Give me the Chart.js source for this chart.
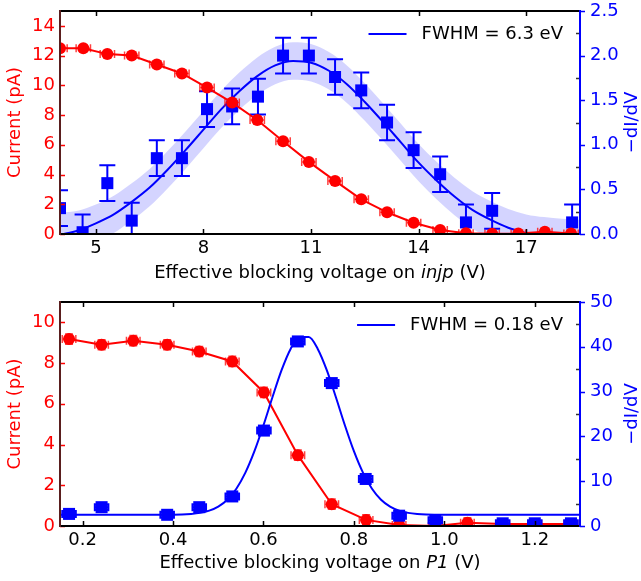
<!DOCTYPE html>
<html>
<head>
<meta charset="utf-8">
<title>Blocking voltage scans</title>
<script src="https://cdn.jsdelivr.net/npm/chart.js@4.4.1/dist/chart.umd.min.js"></script>
<style>
    body { margin: 0; background: #fff; width: 641px; height: 581px; overflow: hidden; }
    .panel { position: absolute; left: 0; width: 641px; }
</style>
</head>
<body>
<div class="panel" style="top:0"><canvas id="topChart" width="641" height="290"></canvas></div>
<div class="panel" style="top:290px"><canvas id="bottomChart" width="641" height="291"></canvas></div>

<script>
// ---------- Data: top panel (injp) ----------
var topVolt = [4.0, 4.65, 5.32, 6.0, 6.7, 7.4, 8.1, 8.8, 9.5, 10.22, 10.94, 11.67, 12.4, 13.12, 13.86, 14.6, 15.32, 16.05, 16.78, 17.52, 18.25];
var topCurrent = [12.5, 12.5, 12.1, 12.0, 11.4, 10.8, 9.85, 8.84, 7.67, 6.24, 4.85, 3.57, 2.33, 1.46, 0.76, 0.27, 0.05, 0.02, 0.03, 0.15, 0.03];

var topDerivVolt = [4.0, 4.63, 5.32, 6.0, 6.7, 7.4, 8.1, 8.8, 9.52, 10.22, 10.94, 11.67, 12.4, 13.12, 13.86, 14.6, 15.32, 16.05, 18.28];
var topDeriv = [0.29, 0.02, 0.57, 0.15, 0.85, 0.85, 1.40, 1.43, 1.54, 2.0, 2.0, 1.76, 1.61, 1.25, 0.94, 0.67, 0.13, 0.26, 0.13];

var topFitVolt = [4, 4.5, 5, 5.5, 6, 6.5, 7, 7.5, 8, 8.5, 9, 9.5, 10, 10.5, 11, 11.5, 12, 12.5, 13, 13.5, 14, 14.5, 15, 15.5, 16, 16.5, 17, 17.5, 18, 18.5];
var topFit = [-0.01, 0.04, 0.12, 0.22, 0.36, 0.52, 0.72, 0.94, 1.17, 1.40, 1.60, 1.77, 1.89, 1.94, 1.92, 1.83, 1.68, 1.48, 1.26, 1.03, 0.80, 0.60, 0.42, 0.27, 0.16, 0.07, 0.01, -0.04, -0.07, -0.08];
var topBandHigh = [0.24, 0.26, 0.33, 0.43, 0.57, 0.73, 0.93, 1.15, 1.38, 1.61, 1.81, 1.98, 2.10, 2.15, 2.13, 2.04, 1.89, 1.69, 1.47, 1.24, 1.01, 0.81, 0.63, 0.48, 0.37, 0.28, 0.22, 0.19, 0.17, 0.16];
var topBandLow = [-0.22, -0.17, -0.09, 0.01, 0.15, 0.31, 0.51, 0.73, 0.96, 1.19, 1.39, 1.56, 1.68, 1.73, 1.71, 1.62, 1.47, 1.27, 1.05, 0.82, 0.59, 0.39, 0.21, 0.06, -0.05, -0.14, -0.20, -0.25, -0.28, -0.29];

var topCurrentErrX = 0.2;
var topCurrentErrY = 0.15;
var topDerivErrY = 0.2;

var topXTicks = [5, 8, 11, 14, 17];
var topLeftTicks = [0, 2, 4, 6, 8, 10, 12, 14];
var topRightTicks = [0, 0.5, 1.0, 1.5, 2.0, 2.5];
var topLegend = 'FWHM = 6.3 eV';
var topElectrode = 'injp';

// ---------- Data: bottom panel (P1) ----------
var botVolt = [0.17, 0.242, 0.312, 0.387, 0.458, 0.531, 0.601, 0.676, 0.751, 0.827, 0.90, 0.98, 1.051, 1.129, 1.20, 1.28];
var botCurrent = [9.18, 8.9, 9.1, 8.9, 8.57, 8.08, 6.56, 3.48, 1.07, 0.3, 0.05, 0.0, 0.16, 0.1, 0.1, 0.1];

var botDerivVolt = [0.17, 0.242, 0.387, 0.458, 0.531, 0.601, 0.676, 0.751, 0.826, 0.90, 0.98, 1.129, 1.20, 1.28];
var botDeriv = [2.7, 4.2, 2.5, 4.2, 6.6, 21.3, 41.2, 31.9, 10.5, 2.3, 1.3, 0.6, 0.6, 0.6];

var botFitVolt = [0.15, 0.40, 0.44, 0.46, 0.48, 0.50, 0.52, 0.54, 0.56, 0.58, 0.60, 0.62, 0.64, 0.66, 0.68, 0.70, 0.72, 0.74, 0.76, 0.78, 0.80, 0.82, 0.84, 0.86, 0.88, 0.90, 0.92, 0.94, 0.96, 1.00, 1.30];
var botFit = [2.5, 2.52, 2.69, 2.93, 3.42, 4.32, 5.86, 8.32, 11.9, 16.69, 22.48, 28.79, 34.79, 39.53, 42.16, 42.16, 39.53, 34.79, 28.79, 22.48, 16.69, 11.9, 8.32, 5.86, 4.32, 3.42, 2.93, 2.69, 2.58, 2.52, 2.5];

var botCurrentErrX = 0.015;
var botCurrentErrY = 0.25;
var botDerivErrX = 0.015;
var botDerivErrY = 0.6;

var botXTicks = [0.2, 0.4, 0.6, 0.8, 1.0, 1.2];
var botLeftTicks = [0, 2, 4, 6, 8, 10];
var botRightTicks = [0, 10, 20, 30, 40, 50];
var botLegend = 'FWHM = 0.18 eV';
var botElectrode = 'P1';

// ---------- Colours and fonts ----------
var RED = '#ff0000';
var BLUE = '#0000ff';
var BAND = 'rgba(0, 0, 255, 0.17)';
var FONT = "'DejaVu Sans', sans-serif";
var FONT_SIZE = 18;

Chart.defaults.font.family = FONT;
Chart.defaults.font.size = FONT_SIZE;

function pairs(xs, ys) {
    return xs.map(function(x, i) { return { x: x, y: ys[i] }; });
}

// ---------- Error bar plugin ----------
// Draws the bars just before the dataset's own markers so layering stays right.
var errorBars = {
    id: 'errorBars',
    beforeDatasetDraw: function(chart, args) {
        var ds = chart.data.datasets[args.index];
        if (!ds.errX && !ds.errY) return;
        var xs = chart.scales.x;
        var ys = chart.scales[ds.yAxisID];
        var area = chart.chartArea;
        var ctx = chart.ctx;
        var cap = ds.errCap;

        ctx.save();
        ctx.beginPath();
        ctx.rect(area.left, area.top, area.right - area.left, area.bottom - area.top);
        ctx.clip();
        ctx.strokeStyle = ds.errColor;
        ctx.lineWidth = ds.errWidth;
        ctx.beginPath();
        ds.data.forEach(function(p) {
            var px = xs.getPixelForValue(p.x);
            var py = ys.getPixelForValue(p.y);
            if (ds.errY) {
                var y1 = ys.getPixelForValue(p.y + ds.errY);
                var y2 = ys.getPixelForValue(p.y - ds.errY);
                ctx.moveTo(px, y1); ctx.lineTo(px, y2);
                ctx.moveTo(px - cap, y1); ctx.lineTo(px + cap, y1);
                ctx.moveTo(px - cap, y2); ctx.lineTo(px + cap, y2);
            }
            if (ds.errX) {
                var x1 = xs.getPixelForValue(p.x - ds.errX);
                var x2 = xs.getPixelForValue(p.x + ds.errX);
                ctx.moveTo(x1, py); ctx.lineTo(x2, py);
                ctx.moveTo(x1, py - 4); ctx.lineTo(x1, py + 4);
                ctx.moveTo(x2, py - 4); ctx.lineTo(x2, py + 4);
            }
        });
        ctx.stroke();
        ctx.restore();
    }
};

// ---------- Frame plugin: spines, inward ticks, titles, legend ----------
var frame = {
    id: 'frame',
    afterDraw: function(chart, args, opts) {
        var ctx = chart.ctx;
        var a = chart.chartArea;
        var xs = chart.scales.x, yl = chart.scales.yL, yr = chart.scales.yR;
        var midY = (a.top + a.bottom) / 2;
        var font = FONT_SIZE + 'px ' + FONT;

        ctx.save();
        ctx.lineWidth = 1.5;

        // x ticks, inward at bottom and top
        ctx.strokeStyle = '#000';
        ctx.beginPath();
        opts.xTicks.forEach(function(v) {
            var px = Math.round(xs.getPixelForValue(v)) + 0.5;
            ctx.moveTo(px, a.bottom); ctx.lineTo(px, a.bottom - 5);
            ctx.moveTo(px, a.top); ctx.lineTo(px, a.top + 5);
        });
        ctx.stroke();

        // left ticks (red, inward)
        ctx.strokeStyle = RED;
        ctx.beginPath();
        opts.leftTicks.forEach(function(v) {
            var py = Math.round(yl.getPixelForValue(v)) + 0.5;
            ctx.moveTo(a.left, py); ctx.lineTo(a.left + 5, py);
        });
        ctx.stroke();

        // right minor ticks (dark, inward)
        ctx.strokeStyle = '#333';
        ctx.beginPath();
        opts.rightTicks.forEach(function(v, i) {
            if (i === 0) return;
            var mid = (v + opts.rightTicks[i - 1]) / 2;
            var py = Math.round(yr.getPixelForValue(mid)) + 0.5;
            ctx.moveTo(a.right, py); ctx.lineTo(a.right - 4, py);
        });
        ctx.stroke();

        // right ticks (blue, outward)
        ctx.strokeStyle = BLUE;
        ctx.beginPath();
        opts.rightTicks.forEach(function(v) {
            var py = Math.round(yr.getPixelForValue(v)) + 0.5;
            ctx.moveTo(a.right, py); ctx.lineTo(a.right + 5, py);
        });
        ctx.stroke();

        // spines
        ctx.lineWidth = 2;
        ctx.strokeStyle = '#000';
        ctx.beginPath();
        ctx.moveTo(a.left, a.top); ctx.lineTo(a.right, a.top);
        ctx.moveTo(a.left, a.bottom); ctx.lineTo(a.right, a.bottom);
        ctx.stroke();
        ctx.strokeStyle = '#5a1e1e';
        ctx.beginPath();
        ctx.moveTo(a.left, a.top - 1); ctx.lineTo(a.left, a.bottom + 1);
        ctx.stroke();
        ctx.strokeStyle = BLUE;
        ctx.beginPath();
        ctx.moveTo(a.right, a.top - 1); ctx.lineTo(a.right, a.bottom + 1);
        ctx.stroke();

        // y titles
        ctx.font = font;
        ctx.textAlign = 'center';
        ctx.textBaseline = 'middle';
        ctx.fillStyle = RED;
        ctx.save();
        ctx.translate(15, midY);
        ctx.rotate(-Math.PI / 2);
        ctx.fillText('Current (pA)', 0, 0);
        ctx.restore();
        ctx.fillStyle = BLUE;
        ctx.save();
        ctx.translate(632, midY);
        ctx.rotate(-Math.PI / 2);
        ctx.fillText('\u2212dI/dV', 0, 0);
        ctx.restore();

        // x title with italic electrode name
        var parts = [
            { text: 'Effective blocking voltage on ', font: font },
            { text: opts.electrode, font: 'italic ' + font },
            { text: ' (V)', font: font }
        ];
        var total = 0;
        parts.forEach(function(p) { ctx.font = p.font; p.w = ctx.measureText(p.text).width; total += p.w; });
        var tx = (a.left + a.right) / 2 - total / 2;
        ctx.fillStyle = '#000';
        ctx.textAlign = 'left';
        parts.forEach(function(p) {
            ctx.font = p.font;
            ctx.fillText(p.text, tx, opts.xTitleY);
            tx += p.w;
        });

        // legend inside the plot, top right
        ctx.font = font;
        var lw = ctx.measureText(opts.legend).width;
        var lx = a.right - 17 - lw;
        var ly = a.top + 23;
        ctx.fillText(opts.legend, lx, ly);
        ctx.strokeStyle = BLUE;
        ctx.lineWidth = 2;
        ctx.beginPath();
        ctx.moveTo(lx - 53, ly); ctx.lineTo(lx - 15, ly);
        ctx.stroke();

        ctx.restore();
    }
};

// ---------- Scale helpers ----------
function fixedWidth(w) {
    return function(scale) { scale.width = w; scale.paddingTop = 0; scale.paddingBottom = 0; };
}
function fixedHeight(h) {
    return function(scale) { scale.height = h; scale.paddingLeft = 0; scale.paddingRight = 0; };
}
function useTicks(values) {
    return function(scale) { scale.ticks = values.map(function(v) { return { value: v }; }); };
}
function fmt(dec) {
    return function(value) { return value.toFixed(dec); };
}

function buildChart(canvasId, cfg) {
    var quiet = { display: false, drawTicks: false };
    return new Chart(document.getElementById(canvasId), {
        type: 'line',
        data: { datasets: cfg.datasets },
        options: {
            responsive: false,
            animation: false,
            layout: { padding: { top: cfg.padTop, left: 0, right: 0, bottom: 0 } },
            plugins: {
                legend: { display: false },
                tooltip: { enabled: false },
                frame: cfg.frame
            },
            scales: {
                x: {
                    type: 'linear', min: cfg.xMin, max: cfg.xMax,
                    afterBuildTicks: useTicks(cfg.frame.xTicks),
                    afterFit: fixedHeight(cfg.xHeight),
                    grid: quiet, border: { display: false },
                    ticks: { color: '#000', padding: 4, maxRotation: 0, autoSkip: false, callback: fmt(cfg.xDec) }
                },
                yL: {
                    type: 'linear', position: 'left', min: 0, max: cfg.leftMax,
                    afterBuildTicks: useTicks(cfg.frame.leftTicks),
                    afterFit: fixedWidth(60),
                    grid: quiet, border: { display: false },
                    ticks: { color: RED, padding: 5, autoSkip: false, callback: fmt(0) }
                },
                yR: {
                    type: 'linear', position: 'right', min: 0, max: cfg.rightMax,
                    afterBuildTicks: useTicks(cfg.frame.rightTicks),
                    afterFit: fixedWidth(61),
                    grid: quiet, border: { display: false },
                    ticks: { color: BLUE, padding: 10, autoSkip: false, callback: fmt(cfg.rightDec) }
                }
            }
        },
        plugins: [errorBars, frame]
    });
}

function currentSet(xs, ys, errX, errY, order) {
    return {
        data: pairs(xs, ys), yAxisID: 'yL', order: order, clip: 0,
        borderColor: RED, borderWidth: 2, backgroundColor: RED,
        pointStyle: 'circle', pointRadius: 6, pointBorderWidth: 0, pointBackgroundColor: RED,
        errX: errX, errY: errY, errColor: 'rgba(255,0,0,0.75)', errWidth: 1.5, errCap: 4
    };
}
function derivSet(xs, ys, errX, errY, cap, order) {
    return {
        data: pairs(xs, ys), yAxisID: 'yR', order: order, clip: 0, showLine: false,
        pointStyle: 'rect', pointRadius: 8.5, pointBorderWidth: 0, pointBackgroundColor: BLUE,
        borderColor: BLUE, backgroundColor: BLUE,
        errX: errX, errY: errY, errColor: BLUE, errWidth: 2, errCap: cap
    };
}
function fitSet(xs, ys, order) {
    return {
        data: pairs(xs, ys), yAxisID: 'yR', order: order, clip: 0,
        borderColor: BLUE, borderWidth: 2, pointRadius: 0, cubicInterpolationMode: 'monotone'
    };
}

// ---------- Top chart ----------
buildChart('topChart', {
    padTop: 11, xHeight: 56, xMin: 4.0, xMax: 18.5, xDec: 0,
    leftMax: 15, rightMax: 2.5, rightDec: 1,
    frame: {
        xTicks: topXTicks, leftTicks: topLeftTicks, rightTicks: topRightTicks,
        legend: topLegend, electrode: topElectrode, xTitleY: 273
    },
    datasets: [
        currentSet(topVolt, topCurrent, topCurrentErrX, topCurrentErrY, 1),
        derivSet(topDerivVolt, topDeriv, 0, topDerivErrY, 8, 2),
        fitSet(topFitVolt, topFit, 3),
        {
            data: pairs(topFitVolt, topBandHigh), yAxisID: 'yR', order: 4, clip: 0,
            borderColor: 'rgba(0,0,0,0)', borderWidth: 1, pointRadius: 0,
            cubicInterpolationMode: 'monotone', fill: '+1', backgroundColor: BAND
        },
        {
            data: pairs(topFitVolt, topBandLow), yAxisID: 'yR', order: 5, clip: 0,
            borderColor: 'rgba(0,0,0,0)', borderWidth: 1, pointRadius: 0,
            cubicInterpolationMode: 'monotone', fill: false
        }
    ]
});

// ---------- Bottom chart ----------
buildChart('bottomChart', {
    padTop: 12, xHeight: 55, xMin: 0.15, xMax: 1.30, xDec: 1,
    leftMax: 11, rightMax: 50, rightDec: 0,
    frame: {
        xTicks: botXTicks, leftTicks: botLeftTicks, rightTicks: botRightTicks,
        legend: botLegend, electrode: botElectrode, xTitleY: 273
    },
    datasets: [
        derivSet(botDerivVolt, botDeriv, botDerivErrX, botDerivErrY, 7, 1),
        fitSet(botFitVolt, botFit, 2),
        currentSet(botVolt, botCurrent, botCurrentErrX, botCurrentErrY, 3)
    ]
});
</script>
</body>
</html>
